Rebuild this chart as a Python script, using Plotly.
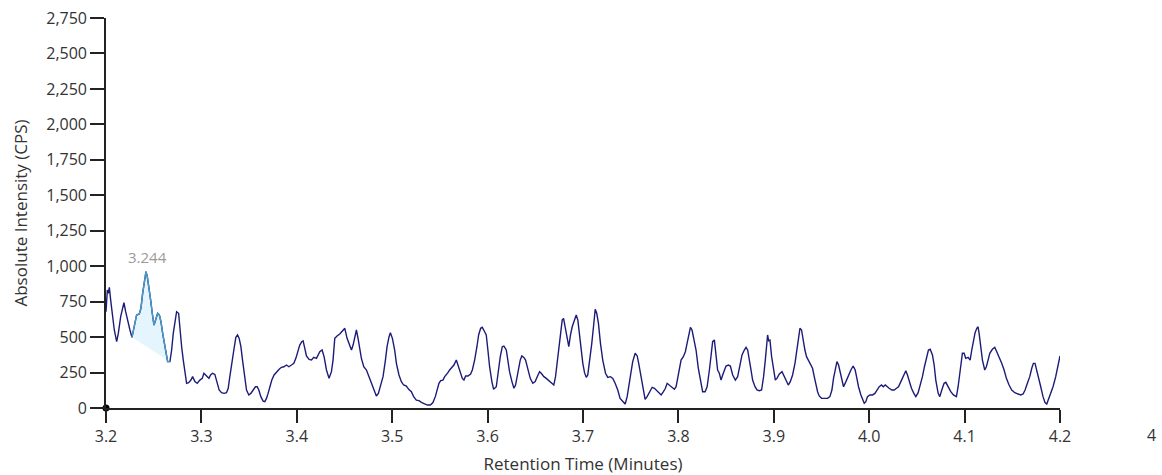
import plotly.graph_objects as go

time_min = [
    3.2000, 3.2014, 3.2024, 3.2035, 3.2049, 3.2070, 3.2087, 3.2112, 3.2129, 3.2154,
    3.2171, 3.2188, 3.2206, 3.2227, 3.2251, 3.2272, 3.2286, 3.2304, 3.2321, 3.2349,
    3.2366, 3.2384, 3.2401, 3.2419, 3.2433, 3.2450, 3.2468, 3.2485, 3.2503, 3.2520,
    3.2541, 3.2559, 3.2576, 3.2594, 3.2611, 3.2628, 3.2646, 3.2670, 3.2688, 3.2705,
    3.2723, 3.2740, 3.2761, 3.2775, 3.2793, 3.2810, 3.2827, 3.2845, 3.2866, 3.2890,
    3.2908, 3.2932, 3.2956, 3.2984, 3.3009, 3.3026, 3.3044, 3.3061, 3.3079, 3.3096,
    3.3117, 3.3141, 3.3159, 3.3186, 3.3211, 3.3238, 3.3263, 3.3281, 3.3298, 3.3316,
    3.3340, 3.3361, 3.3379, 3.3396, 3.3414, 3.3431, 3.3448, 3.3473, 3.3497, 3.3518,
    3.3543, 3.3567, 3.3585, 3.3602, 3.3623, 3.3647, 3.3665, 3.3682, 3.3699, 3.3717,
    3.3738, 3.3762, 3.3787, 3.3815, 3.3839, 3.3864, 3.3892, 3.3916, 3.3944, 3.3969,
    3.3990, 3.4014, 3.4031, 3.4052, 3.4066, 3.4084, 3.4101, 3.4129,
    3.4154, 3.4178, 3.4206, 3.4241, 3.4265, 3.4286, 3.4311, 3.4338, 3.4363, 3.4380,
    3.4398, 3.4422, 3.4450, 3.4478, 3.4503, 3.4527, 3.4555, 3.4573, 3.4590, 3.4607,
    3.4625, 3.4642, 3.4660, 3.4677, 3.4702, 3.4730, 3.4757, 3.4782, 3.4806, 3.4834,
    3.4855, 3.4876, 3.4904, 3.4929, 3.4946, 3.4967, 3.4981, 3.5002, 3.5026, 3.5044,
    3.5071, 3.5096, 3.5120, 3.5149, 3.5173, 3.5201, 3.5225, 3.5253, 3.5281, 3.5306,
    3.5333, 3.5369, 3.5400, 3.5427, 3.5452, 3.5473, 3.5490, 3.5508, 3.5532, 3.5550,
    3.5567, 3.5584, 3.5602, 3.5630, 3.5647, 3.5672, 3.5689, 3.5714, 3.5735, 3.5752,
    3.5770, 3.5794, 3.5822, 3.5840, 3.5864, 3.5888, 3.5906, 3.5927, 3.5944, 3.5969,
    3.5986, 3.6003, 3.6021, 3.6045, 3.6063, 3.6091, 3.6108, 3.6133, 3.6154, 3.6171,
    3.6196, 3.6213, 3.6230,
    3.6255, 3.6276, 3.6293, 3.6318, 3.6342, 3.6359, 3.6380, 3.6398, 3.6422, 3.6447,
    3.6474, 3.6499, 3.6520, 3.6545, 3.6562, 3.6590, 3.6615, 3.6642, 3.6673, 3.6694,
    3.6712, 3.6736, 3.6761, 3.6782, 3.6796, 3.6813, 3.6835, 3.6851, 3.6869, 3.6887,
    3.6911, 3.6929, 3.6946, 3.6963, 3.6981, 3.6998, 3.7016, 3.7034, 3.7050, 3.7068,
    3.7092, 3.7110, 3.7128, 3.7144, 3.7162, 3.7183, 3.7207, 3.7236, 3.7260, 3.7288,
    3.7312, 3.7337, 3.7364, 3.7389, 3.7417, 3.7442, 3.7463, 3.7487, 3.7505, 3.7521,
    3.7547, 3.7568, 3.7584, 3.7602, 3.7626, 3.7651, 3.7672, 3.7696, 3.7725, 3.7749,
    3.7773, 3.7794, 3.7819, 3.7843, 3.7864, 3.7882, 3.7906, 3.7934, 3.7958, 3.7976,
    3.7993, 3.8010, 3.8028, 3.8052, 3.8073, 3.8091, 3.8108, 3.8126, 3.8143, 3.8160,
    3.8185, 3.8209, 3.8230, 3.8254, 3.8280, 3.8301, 3.8325, 3.8346, 3.8359, 3.8377,
    3.8395, 3.8411, 3.8429,
    3.8447, 3.8464, 3.8482, 3.8499, 3.8524, 3.8545, 3.8569, 3.8597, 3.8621, 3.8646,
    3.8667, 3.8691, 3.8709, 3.8726, 3.8743, 3.8761, 3.8778, 3.8803, 3.8824, 3.8848,
    3.8872, 3.8893, 3.8911, 3.8925, 3.8935, 3.8946, 3.8960, 3.8977, 3.8998, 3.9016,
    3.9033, 3.9058, 3.9086, 3.9103, 3.9128, 3.9152, 3.9173, 3.9197, 3.9222, 3.9239,
    3.9257, 3.9274, 3.9291, 3.9309, 3.9326, 3.9343, 3.9364, 3.9389, 3.9406, 3.9424,
    3.9442, 3.9459, 3.9476, 3.9501, 3.9529, 3.9563, 3.9588, 3.9609, 3.9626, 3.9644,
    3.9662, 3.9679, 3.9696, 3.9714, 3.9731, 3.9756, 3.9783, 3.9808, 3.9832, 3.9853,
    3.9871, 3.9888, 3.9913, 3.9930, 3.9948, 3.9965, 3.9982, 4.0007, 4.0035, 4.0060,
    4.0081, 4.0105, 4.0129, 4.0147, 4.0168, 4.0185, 4.0209, 4.0238, 4.0262, 4.0286,
    4.0307, 4.0332, 4.0356, 4.0384, 4.0401, 4.0419, 4.0443, 4.0468, 4.0489, 4.0513,
    4.0537, 4.0558, 4.0579, 4.0600, 4.0621,
    4.0639, 4.0663, 4.0681, 4.0698, 4.0723, 4.0740, 4.0761, 4.0785, 4.0803, 4.0827,
    4.0855, 4.0883, 4.0914, 4.0932, 4.0953, 4.0977, 4.0995, 4.1012, 4.1037, 4.1058,
    4.1075, 4.1092, 4.1110, 4.1128, 4.1141, 4.1152, 4.1169, 4.1187, 4.1211, 4.1228,
    4.1246, 4.1264, 4.1291, 4.1316, 4.1337, 4.1361, 4.1389, 4.1414, 4.1438, 4.1466,
    4.1494, 4.1526, 4.1553, 4.1588, 4.1613, 4.1634, 4.1658, 4.1683, 4.1704, 4.1721,
    4.1738, 4.1752, 4.1773, 4.1798, 4.1822, 4.1843, 4.1861, 4.1878, 4.1903, 4.1927,
    4.1955, 4.1979, 4.2000,
]

intensity_cps = [
    679, 832, 808, 851, 761, 656, 550, 468, 526, 644,
    691, 743, 679, 609, 550, 498, 538, 609, 656, 663,
    703, 808, 902, 961, 926, 855, 761, 668, 585, 620,
    668, 656, 609, 526, 456, 386, 327, 327, 409, 526,
    620, 679, 668, 550, 432, 338, 245, 174, 179, 197,
    221, 186, 174, 197, 209, 245, 233, 221, 209, 233,
    245, 237, 186, 127, 108, 103, 108, 139, 221, 315,
    409, 498, 515, 491, 432, 338, 233, 127, 92, 103,
    127, 150, 150, 127, 80, 49, 45, 68, 103, 150,
    197, 233, 256, 273, 287, 291, 303, 291, 303, 315,
    350, 397, 444, 468, 474, 421, 367, 343,
    338, 357, 350, 397, 409, 362, 268, 209, 256, 338,
    491, 508, 522, 543, 562, 491, 432, 409, 444, 503,
    550, 491, 421, 350, 291, 268, 221, 174, 127, 85,
    103, 150, 221, 338, 432, 503, 531, 491, 409, 315,
    233, 186, 162, 155, 132, 115, 80, 56, 52, 40,
    33, 21, 21, 38, 80, 127, 174, 193, 197, 221,
    233, 249, 268, 291, 303, 338, 303, 256, 209, 197,
    226, 226, 240, 268, 338, 432, 515, 562, 569, 538,
    515, 409, 291, 186, 132, 150, 245, 362, 432, 437,
    409, 338, 256,
    186, 139, 162, 245, 338, 367, 357, 338, 268, 209,
    174, 186, 221, 256, 245, 221, 209, 193, 179, 162,
    221, 362, 503, 620, 632, 573, 491, 432, 515, 573,
    620, 656, 620, 515, 409, 315, 249, 216, 233, 315,
    456, 573, 696, 668, 597, 456, 338, 245, 216, 221,
    209, 174, 127, 68, 45, 28, 80, 174, 268, 327,
    386, 367, 315, 245, 150, 61, 80, 108, 146, 139,
    122, 108, 92, 115, 139, 174, 162, 150, 132, 150,
    221, 291, 338, 362, 397, 456, 515, 569, 550, 491,
    409, 280, 197, 115, 115, 150, 268, 409, 468, 480,
    386, 268, 245,
    197, 233, 268, 296, 303, 296, 233, 197, 221, 303,
    374, 409, 428, 409, 350, 268, 197, 150, 127, 122,
    127, 221, 338, 468, 515, 474, 479, 362, 256, 197,
    209, 240, 256, 233, 197, 162, 186, 233, 315, 409,
    491, 562, 550, 468, 409, 362, 338, 303, 280, 221,
    162, 115, 85, 68, 68, 68, 80, 127, 209, 280,
    327, 303, 245, 186, 150, 186, 233, 268, 296, 268,
    209, 150, 92, 56, 33, 45, 80, 92, 92, 103,
    127, 150, 162, 150, 162, 150, 139, 127, 127, 139,
    150, 186, 221, 263, 233, 186, 139, 103, 80, 108,
    162, 221, 291, 362, 409,
    414, 374, 303, 197, 103, 80, 127, 174, 181, 150,
    115, 92, 80, 150, 268, 386, 386, 350, 357, 338,
    409, 480, 531, 562, 573, 526, 432, 338, 268, 291,
    338, 386, 414, 428, 397, 362, 315, 268, 209, 162,
    127, 108, 99, 92, 99, 127, 174, 221, 280, 315,
    315, 280, 221, 150, 80, 38, 28, 56, 103, 150,
    221, 303, 367,
]

peak_label = "3.244"
peak_apex_time = 3.2419
peak_apex_cps = 961
peak_start_time, peak_start_cps = 3.2272, 498
peak_end_time, peak_end_cps = 3.2670, 327

x_ticks = [3.2, 3.3, 3.4, 3.5, 3.6, 3.7, 3.8, 3.9, 4.0, 4.1, 4.2]
x_tick_text = ["3.2", "3.3", "3.4", "3.5", "3.6", "3.7", "3.8", "3.9", "4.0", "4.1", "4.2"]
y_ticks = [0, 250, 500, 750, 1000, 1250, 1500, 1750, 2000, 2250, 2500, 2750]
clipped_tick_text = "4"

FONT = "Open Sans, Noto Sans, sans-serif"
NAVY = "#1c1c78"
PEAK = "#4a9cc6"
TEXT = "#333333"

pk_x = [t for t in time_min if peak_start_time <= t <= peak_end_time]
pk_y = [v for t, v in zip(time_min, intensity_cps) if peak_start_time <= t <= peak_end_time]

fig = go.Figure()
# shaded peak area
fig.add_trace(go.Scatter(
    x=pk_x + [peak_end_time, peak_start_time],
    y=pk_y + [peak_end_cps, peak_start_cps],
    fill="toself", fillcolor="rgba(195,233,250,0.45)",
    line=dict(width=0), mode="lines", hoverinfo="skip", showlegend=False,
))
fig.add_trace(go.Scatter(
    x=time_min, y=intensity_cps, mode="lines",
    line=dict(color=NAVY, width=1.4), showlegend=False,
))
fig.add_trace(go.Scatter(
    x=pk_x, y=pk_y, mode="lines",
    line=dict(color=PEAK, width=1.4), showlegend=False,
))
# origin dot
fig.add_trace(go.Scatter(
    x=[x_ticks[0]], y=[0], mode="markers",
    marker=dict(color="black", size=7), cliponaxis=False, showlegend=False,
))

fig.add_annotation(
    x=peak_apex_time + 0.0021, y=peak_apex_cps, text=peak_label, showarrow=False,
    yanchor="bottom", yshift=3, font=dict(family=FONT, size=15, color="#9a9a9a"),
)
# partly clipped next tick label on the right edge
fig.add_annotation(
    x=1.089, xref="paper", y=0, yref="paper", text=clipped_tick_text, showarrow=False,
    xanchor="left", yanchor="top", yshift=-14,
    font=dict(family=FONT, size=16, color=TEXT),
)

axis_common = dict(
    showgrid=False, zeroline=False, showline=True, linecolor="#222", linewidth=1.6,
    tickwidth=1.5, tickcolor="#222", ticks="outside", automargin=False,
    tickfont=dict(family=FONT, size=16, color=TEXT),
)

fig.update_layout(
    width=1162, height=475,
    margin=dict(l=106, r=102, t=18, b=67),
    plot_bgcolor="white", paper_bgcolor="white",
    xaxis=dict(range=[3.2, 4.2], tickvals=x_ticks, ticktext=x_tick_text, ticklen=13,
               title=dict(text="Retention Time (Minutes)", standoff=13,
                          font=dict(family=FONT, size=17, color=TEXT)),
               **axis_common),
    yaxis=dict(range=[0, 2750], tickvals=y_ticks, tickformat=",d", ticklen=14,
               title=dict(text="Absolute Intensity (CPS)", standoff=14,
                          font=dict(family=FONT, size=17, color=TEXT)),
               **axis_common),
)

fig.write_html("out.html")
